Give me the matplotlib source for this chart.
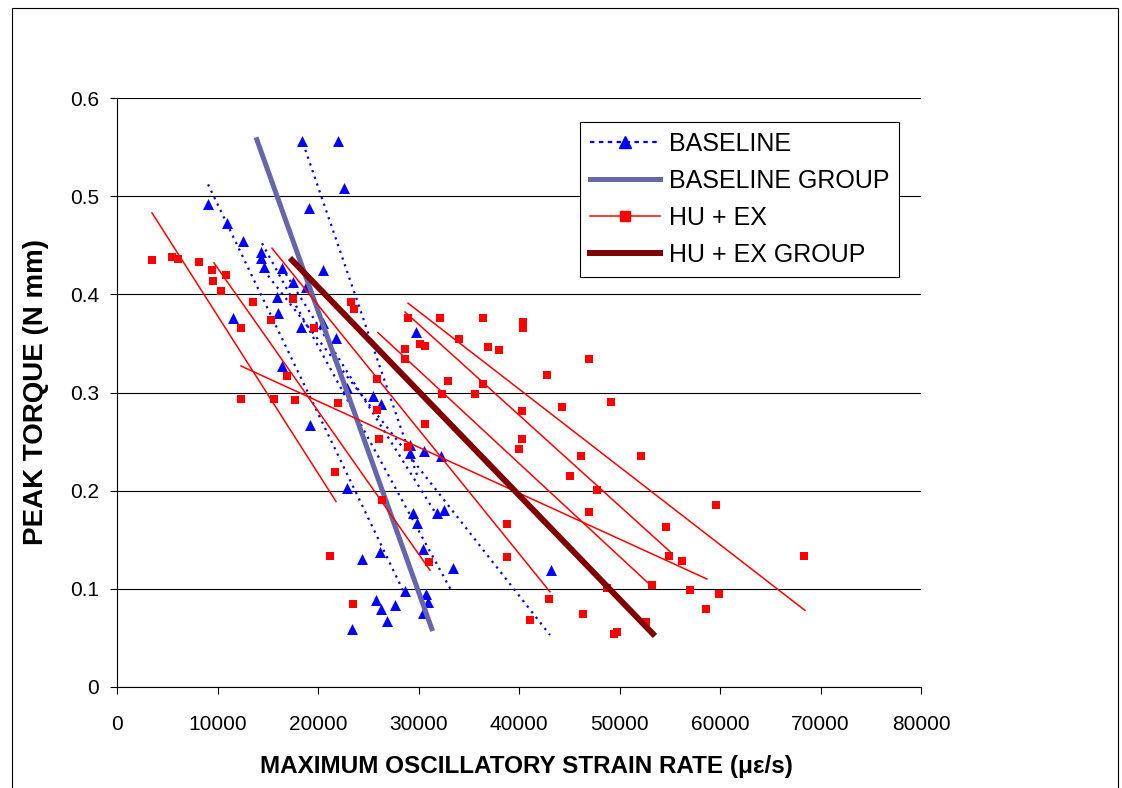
import matplotlib
matplotlib.use('Agg')
import matplotlib.pyplot as plt
from matplotlib.lines import Line2D
from matplotlib.patches import Rectangle

plt.rcParams['font.family'] = ['Liberation Sans', 'DejaVu Sans']

# BASELINE measurements (strain rate, peak torque)
baseline_x = [18410, 21990, 22590, 19100, 9060, 10950, 12540, 14330, 14330, 14630,
              16420, 17510, 18810, 20500, 15920, 16020, 11540, 18310, 20500, 21790,
              16420, 19200, 22890, 25470, 26270, 29750, 29150, 29150, 30550, 32240,
              22890, 29450, 29850, 31840, 32540, 30450, 33430, 24380, 26170, 28660,
              30750, 30950, 30450, 25770, 26270, 27660, 26870, 23380, 43180]
baseline_y = [0.556, 0.556, 0.508, 0.488, 0.492, 0.473, 0.454, 0.443, 0.437, 0.428,
              0.427, 0.413, 0.407, 0.425, 0.397, 0.381, 0.376, 0.367, 0.371, 0.356,
              0.327, 0.267, 0.305, 0.296, 0.288, 0.362, 0.247, 0.238, 0.240, 0.235,
              0.203, 0.177, 0.167, 0.177, 0.180, 0.141, 0.121, 0.130, 0.138, 0.098,
              0.095, 0.087, 0.075, 0.089, 0.079, 0.084, 0.067, 0.059, 0.119]

# HU + EX measurements
huex_x = [3480, 5470, 6070, 8160, 9450, 10850, 9550, 10350, 13530, 17510,
          23280, 23580, 15320, 12340, 19600, 28960, 28660, 28660, 30150, 30650,
          16920, 25870, 12340, 15620, 17710, 21990, 25870, 30650, 26070, 28960,
          21690, 26370, 31040, 21190, 23480, 32140, 36420, 40400, 40400, 34030,
          36920, 38010, 46960, 32940, 36420, 32340, 35620, 42790, 49150, 40300,
          44280, 40300, 40000, 46170, 52140, 45070, 47760, 59600, 38810, 46960,
          54630, 38810, 54920, 56220, 68360, 53230, 48760, 57010, 42980, 59900,
          58610, 46370, 41090, 52640, 49450, 49750]
huex_y = [0.435, 0.438, 0.436, 0.433, 0.425, 0.420, 0.414, 0.403, 0.392, 0.395,
          0.392, 0.385, 0.374, 0.366, 0.366, 0.376, 0.344, 0.334, 0.349, 0.347,
          0.317, 0.314, 0.293, 0.293, 0.292, 0.289, 0.282, 0.268, 0.253, 0.244,
          0.219, 0.190, 0.127, 0.133, 0.085, 0.376, 0.376, 0.372, 0.366, 0.354,
          0.346, 0.343, 0.334, 0.312, 0.309, 0.298, 0.298, 0.318, 0.290, 0.281,
          0.285, 0.253, 0.242, 0.235, 0.235, 0.215, 0.201, 0.185, 0.166, 0.178,
          0.163, 0.132, 0.133, 0.128, 0.133, 0.104, 0.101, 0.099, 0.090, 0.095,
          0.079, 0.074, 0.068, 0.066, 0.054, 0.056]

# individual trend lines: (start, end)
baseline_fit_x = [(9060, 28660), (18510, 29950), (14430, 33330), (15030, 43080), (16420, 32140)]
baseline_fit_y = [(0.512, 0.094), (0.554, 0.213), (0.452, 0.097), (0.419, 0.053), (0.427, 0.170)]

huex_fit_x = [(3480, 21790), (9650, 31140), (12340, 58700), (15420, 43080),
              (25970, 52840), (28660, 55020), (28960, 68460)]
huex_fit_y = [(0.483, 0.189), (0.432, 0.119), (0.327, 0.110), (0.447, 0.097),
              (0.361, 0.106), (0.382, 0.138), (0.391, 0.078)]

# group trend lines
baseline_group_x = [13830, 31400]
baseline_group_y = [0.560, 0.057]
huex_group_x = [17210, 53530]
huex_group_y = [0.437, 0.052]

blue = '#0000FF'
red = '#FF0000'
slate = '#6666AA'
maroon = '#800000'
dots = (0, (1, 2.2))

fig = plt.figure(figsize=(11.22, 7.88), dpi=100)
ax = fig.add_axes([117 / 1122, 1 - 687 / 788, 804 / 1122, 589 / 788])

ax.scatter(baseline_x, baseline_y, marker='^', s=62, color=blue, linewidths=0, zorder=3)
for xs, ys in zip(baseline_fit_x, baseline_fit_y):
    ax.plot(xs, ys, color=blue, lw=1.6, linestyle=dots, zorder=3)

ax.plot(baseline_group_x, baseline_group_y, color=slate, lw=3.6, solid_capstyle='butt', zorder=4)

ax.scatter(huex_x, huex_y, marker='s', s=32, color=red, linewidths=0, zorder=5)
for xs, ys in zip(huex_fit_x, huex_fit_y):
    ax.plot(xs, ys, color=red, lw=1.1, zorder=5)

ax.plot(huex_group_x, huex_group_y, color=maroon, lw=4.3, solid_capstyle='butt', zorder=6)

ax.set_xlim(0, 80000)
ax.set_ylim(0, 0.6)
ax.set_xticks(range(0, 80001, 10000))
ax.set_yticks([0, 0.1, 0.2, 0.3, 0.4, 0.5, 0.6])
ax.set_yticklabels(['0', '0.1', '0.2', '0.3', '0.4', '0.5', '0.6'])
ax.yaxis.grid(True, color='black', lw=0.8)
ax.set_axisbelow(True)
for s in ['top', 'right']:
    ax.spines[s].set_visible(False)
for s in ['left', 'bottom']:
    ax.spines[s].set_linewidth(0.8)
ax.tick_params(axis='both', direction='out', length=5, width=0.8, labelsize=15)
ax.tick_params(axis='x', pad=15)
ax.tick_params(axis='y', pad=8)

fig.text(526 / 1122, 1 - 767 / 788, 'MAXIMUM OSCILLATORY STRAIN RATE (\u03bc\u03b5/s)',
         ha='center', va='center', fontsize=17.5, fontweight='bold')
fig.text(36 / 1122, 1 - 392 / 788, 'PEAK TORQUE (N mm)', rotation=90,
         ha='center', va='center', fontsize=20, fontweight='bold')

handles = [
    Line2D([], [], color=blue, lw=1.6, linestyle=(0, (2, 2)), marker='^', markersize=9),
    Line2D([], [], color=slate, lw=3.6),
    Line2D([], [], color=red, lw=1.1, marker='s', markersize=7),
    Line2D([], [], color=maroon, lw=4.3),
]
labels = ['BASELINE', 'BASELINE GROUP', 'HU + EX', 'HU + EX GROUP']
leg = ax.legend(handles, labels, loc='upper left', bbox_to_anchor=(0.576, 0.959),
                borderaxespad=0, fontsize=18, handlelength=2.8, labelspacing=0.52,
                handletextpad=0.35, borderpad=0.4, fancybox=False, framealpha=1)
leg.get_frame().set_edgecolor('black')
leg.get_frame().set_linewidth(0.8)

fig.patches.append(Rectangle((12 / 1122, -0.01), (1118 - 12) / 1122, 1 - 8 / 788 + 0.01,
                             transform=fig.transFigure, fill=False, ec='black', lw=0.8))

fig.savefig('out.png', dpi=100)
